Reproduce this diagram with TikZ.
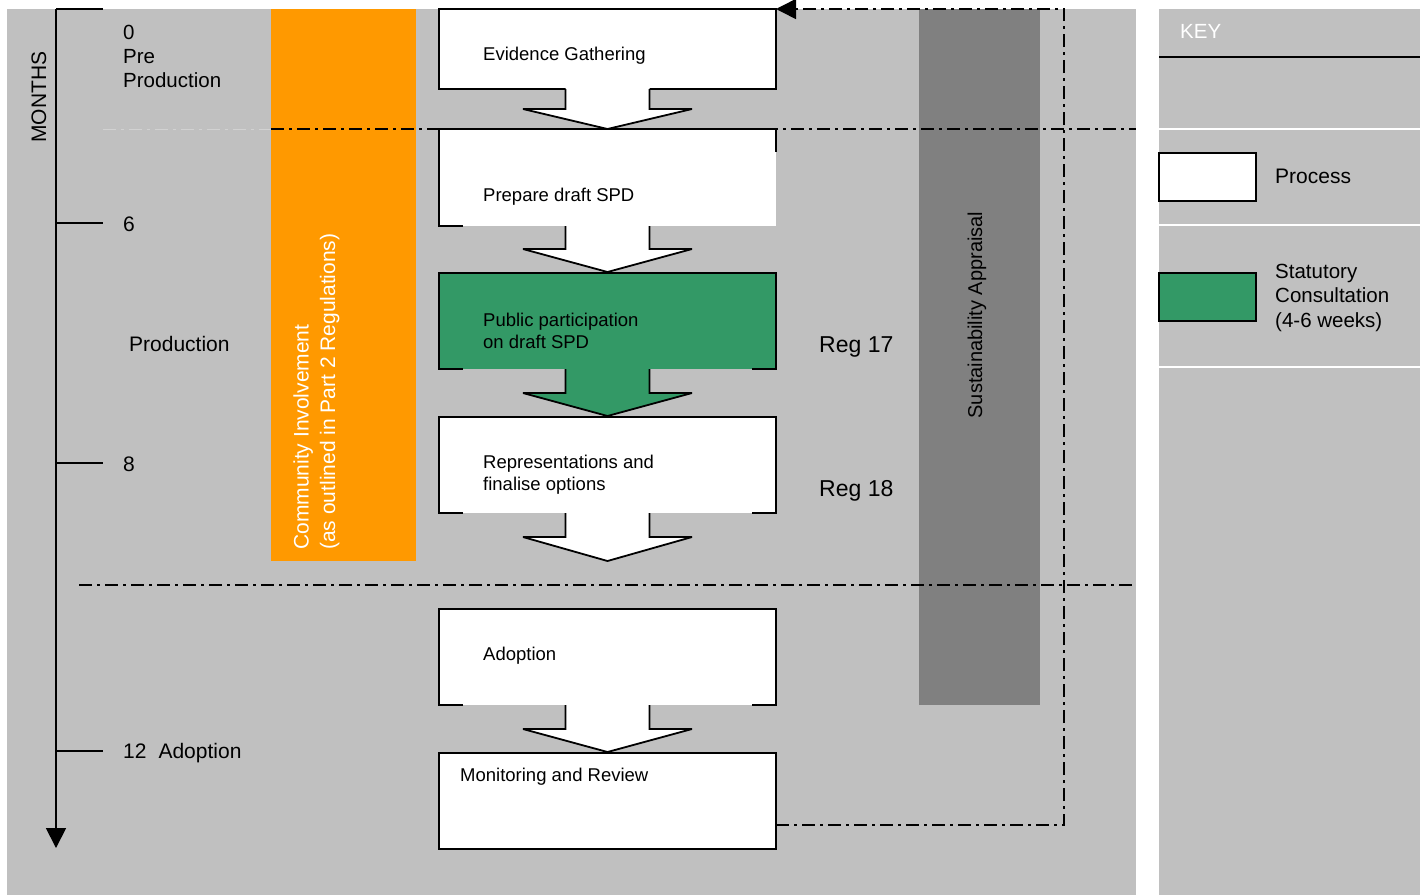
\documentclass[tikz,border=0pt]{standalone}
\usepackage{fontspec}
\setmainfont{Liberation Sans}
\usetikzlibrary{arrows.meta,calc}
\definecolor{panel}{HTML}{C0C0C0}
\definecolor{orangeband}{HTML}{FF9900}
\definecolor{sagrey}{HTML}{808080}
\definecolor{statgreen}{HTML}{339966}
\definecolor{faint}{HTML}{D2D2D2}
\newcommand\myblockarrow[4]{%
  \fill[#2] ($(#1.south)+(-42,-2)$) -- ++(0,#3+2) -- ++(-42.5,0) -- ++(84.5,#4) -- ++(84.5,-#4) -- ++(-42.5,0) -- ++(0,-#3-2) -- cycle;
  \draw[edge, miter limit=2] ($(#1.south)+(-42,0)$) -- ++(0,#3) -- ++(-42.5,0) -- ++(84.5,#4) -- ++(84.5,-#4) -- ++(-42.5,0) -- ++(0,-#3);
}
\newcommand\mypartialbox[1]{%
  \draw[edge] ($(#1.south west)+(24,0)$) -- (#1.south west) -- (#1.north west) -- (#1.north east) -- (#1.south east) -- ++(-24,0);
}
\begin{document}
\begin{tikzpicture}[x=1pt,y=-1pt,
  txt/.style={inner sep=0pt, anchor=west, align=left, font=\fontsize{18.5}{22}\selectfont},
  big/.style={inner sep=0pt, anchor=west, align=left, font=\fontsize{21}{24}\selectfont},
  procbox/.style={draw=none, fill=white, minimum width=337pt, inner sep=0pt, outer sep=0pt},
  edge/.style={line width=1.8pt, line join=miter},
  dd/.style={line width=1.6pt, dash pattern=on 13pt off 5pt on 3pt off 5pt},
  tick/.style={line width=1.8pt},
]
\useasboundingbox (0,0) rectangle (1420,895);
\fill[white] (0,0) rectangle (1420,895);
% panels
\fill[panel] (7,9) rectangle (1136,895);
\fill[panel] (1159,9) rectangle (1420,895);
% key panel lines
\draw[line width=1.8pt] (1159,57) -- (1420,57);
\draw[white, line width=2pt] (1159,129) -- (1420,129);
\draw[white, line width=2pt] (1159,225) -- (1420,225);
\draw[white, line width=2pt] (1159,367) -- (1420,367);
% bands
\fill[orangeband] (271,9) rectangle (416,561);
\fill[sagrey] (919,9) rectangle (1040,705);
% phase separators
\draw[faint, line width=1pt, dash pattern=on 13pt off 5pt on 3pt off 5pt] (103,129) -- (271,129);
\draw[dd] (271,129) -- (1136,129);
\draw[dd] (79,585) -- (1136,585);
% months axis
\coordinate (axtop) at (56,9);
\coordinate (axend) at (56,848);
\draw[tick, -{Triangle[length=20pt,width=20pt]}] (axtop) -- (axend);
\draw[tick] (axtop) -- ++(47,0);
\draw[tick] (56,223) -- ++(47,0);
\draw[tick] (56,463) -- ++(47,0);
\draw[tick] (56,751) -- ++(47,0);
\node[rotate=90, inner sep=0pt, font=\fontsize{21}{24}\selectfont] (months) at (39,97) {MONTHS};
\node[big, font=\fontsize{20.5}{24}\selectfont] (m0) at (123,56) {0\\Pre\\Production};
\node[big] (m6) at (123,224) {6};
\node[big] (prodlbl) at (129,344) {Production};
\node[big] (m8) at (123,464) {8};
\node[big] (m12) at (123,753) {12\hspace{12pt}Adoption};
% process boxes
\node[procbox, minimum height=80pt] (ev) at (607.5,49) {};
\node[procbox, minimum height=97pt] (prep) at (607.5,177.5) {};
\node[procbox, fill=statgreen, minimum height=96pt] (pub) at (607.5,321) {};
\node[procbox, minimum height=96pt] (rep) at (607.5,465) {};
\node[procbox, minimum height=96pt] (adop) at (607.5,657) {};
\node[procbox, minimum height=96pt] (mon) at (607.5,801) {};
\draw[edge] (ev.south west) rectangle (ev.north east);
\draw[edge] ($(prep.south west)+(24,0)$) -- (prep.south west) -- (prep.north west) -- (prep.north east) -- ++(0,23);
\mypartialbox{pub}
\mypartialbox{rep}
\mypartialbox{adop}
\draw[edge] (mon.south west) rectangle (mon.north east);
\myblockarrow{ev}{white}{20}{20}
\myblockarrow{prep}{white}{23}{23}
\myblockarrow{pub}{statgreen}{24}{23}
\myblockarrow{rep}{white}{24}{24}
\myblockarrow{adop}{white}{24}{23}
% box texts
\node[txt] (tev) at (483,55.5) {Evidence Gathering};
\node[txt] (tprep) at (483,196.5) {Prepare draft SPD};
\node[txt] (tpub) at (483,330.5) {Public participation\\on draft SPD};
\node[txt] (trep) at (483,474.5) {Representations and\\finalise options};
\node[txt] (tadop) at (483,655.5) {Adoption};
\node[txt] (tmon) at (460,776.5) {Monitoring and Review};
% regulation labels
\node[big, font=\fontsize{23}{26}\selectfont] (reg17) at (819,347) {Reg 17};
\node[big, font=\fontsize{23}{26}\selectfont] (reg18) at (819,491) {Reg 18};
% band labels
\node[rotate=90, anchor=west, align=left, inner sep=0pt, text=white, font=\fontsize{21}{26.5}\selectfont] (ci) at (316.5,550) {Community Involvement\\(as outlined in Part 2 Regulations)};
\node[rotate=90, inner sep=0pt, font=\fontsize{20}{24}\selectfont] (sa) at (977,315) {Sustainability Appraisal};
% feedback loop
\draw[dd, -{Triangle[length=20pt,width=20pt]}] ([yshift=24pt]mon.south east) -- ++(288,0) |- (ev.north east);
% key
\node[big, text=white, font=\fontsize{20.5}{24}\selectfont] (keyt) at (1180,31) {KEY};
\node[draw, line width=1.8pt, fill=white, minimum width=97pt, minimum height=48pt, inner sep=0pt, outer sep=0pt] (kproc) at (1207.5,177) {};
\node[big] (kproct) at (1275,176) {Process};
\node[draw, line width=1.8pt, fill=statgreen, minimum width=97pt, minimum height=48pt, inner sep=0pt, outer sep=0pt] (kstat) at (1207.5,297) {};
\node[big, font=\fontsize{20.5}{24.5}\selectfont] (kstatt) at (1275,297.5) {Statutory\\Consultation\\(4-6 weeks)};
\end{tikzpicture}
\end{document}
